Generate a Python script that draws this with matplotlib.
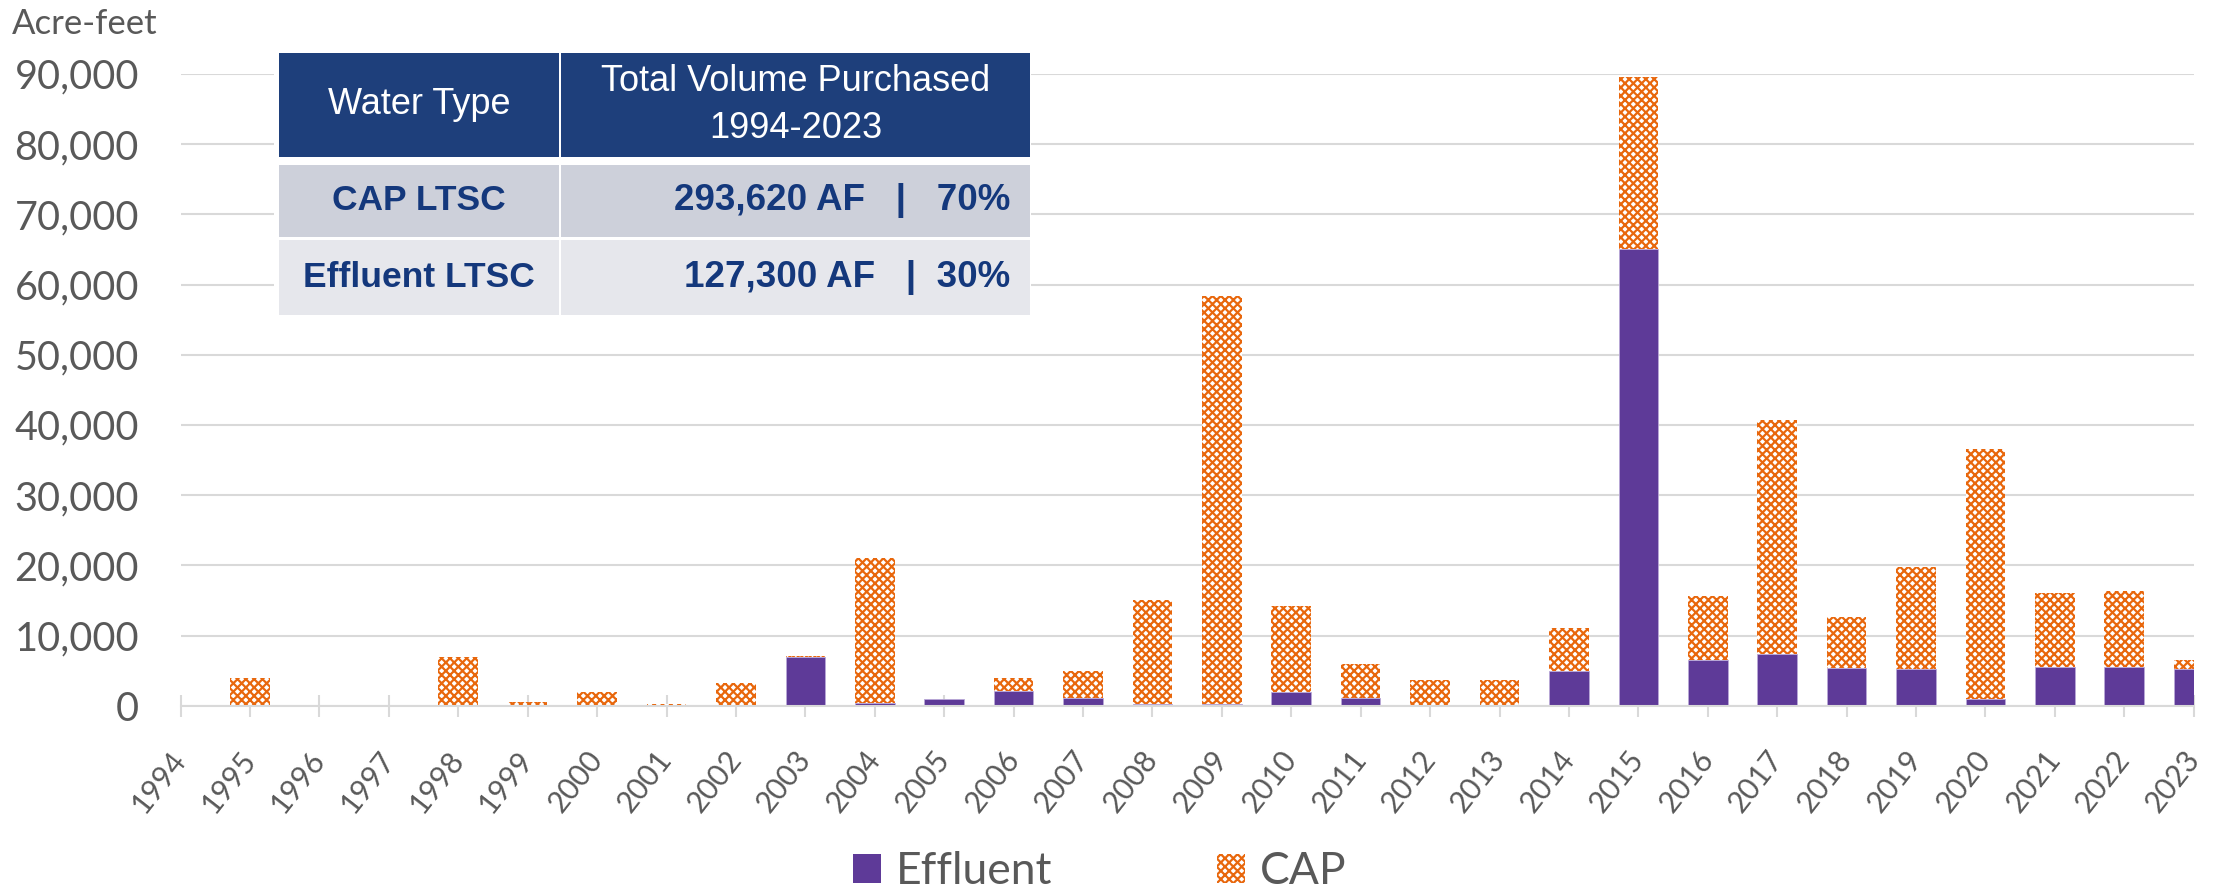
import matplotlib.pyplot as plt
from matplotlib.patches import Rectangle, Patch
from matplotlib.ticker import FuncFormatter

# Water purchases per year (acre-feet)
years = list(range(1994, 2024))
effluent = [0, 0, 0, 0, 0, 0, 0, 0, 0, 6900,
            400, 900, 2100, 1100, 200, 200, 1900, 1100, 0, 0,
            4900, 65000, 6500, 7400, 5300, 5200, 900, 5500, 5500, 5200]
cap = [0, 4000, 0, 0, 6900, 500, 2000, 200, 3300, 250,
       20600, 0, 1900, 3800, 14800, 58200, 12250, 4900, 3600, 3600,
       6200, 24550, 9070, 33250, 7380, 14500, 35700, 10600, 10780, 1350]

table_header = ['Water Type', 'Total Volume Purchased\n1994-2023']
table_rows = [['CAP LTSC', '293,620 AF   |   70%'],
              ['Effluent LTSC', '127,300 AF   |  30%']]

purple = '#5E3A98'
orange = '#E8670C'
gray_txt = '#595959'
grid_col = '#D9D9D9'
navy = '#1E3F7B'
navy_txt = '#14387C'

plt.rcParams['font.family'] = ['Lato', 'DejaVu Sans']
plt.rcParams['hatch.linewidth'] = 1.6

W, H = 2213, 892
fig = plt.figure(figsize=(W / 100, H / 100), dpi=100)


def fx(x):
    return x / W


def fy(y):
    return 1 - y / H


ax = fig.add_axes([fx(180.6), fy(705.7), fx(2193.7 - 180.6), (705.7 - 73.9) / H])

ax.bar(years, effluent, width=0.57, color=purple, edgecolor='#B9A8D8', linewidth=0.6, zorder=3)
ax.bar(years, cap, width=0.57, bottom=effluent, color='white', edgecolor=orange,
       hatch='xxxx', linewidth=0, zorder=3)

ax.set_xlim(1994, 2023)
ax.set_ylim(0, 90000)
ax.set_yticks(range(0, 90001, 10000))
ax.yaxis.set_major_formatter(FuncFormatter(lambda v, p: f'{v:,.0f}'))
ax.set_xticks(years)
ax.set_xticklabels([str(y) for y in years], rotation=52, ha='right', va='center',
                   rotation_mode='anchor')

ax.grid(axis='y', color=grid_col, linewidth=1.5, zorder=0)
for s in ['top', 'right', 'left']:
    ax.spines[s].set_visible(False)
ax.spines['bottom'].set_color(grid_col)
ax.spines['bottom'].set_linewidth(1.5)
ax.spines['bottom'].set_zorder(4)

ax.tick_params(axis='y', length=0, pad=30, labelsize=28.5, labelcolor=gray_txt)
ax.tick_params(axis='x', direction='inout', length=16, width=1.5, color=grid_col,
               pad=27, labelsize=21.5, labelcolor=gray_txt)

fig.text(fx(12), fy(34), 'Acre-feet', fontsize=25, color=gray_txt, va='baseline', ha='left')

# summary table drawn on top of the plot
fig.add_artist(Rectangle((fx(274), fy(320)), fx(1031 - 274), (320 - 49) / H,
                         transform=fig.transFigure, facecolor='white', edgecolor='none', zorder=5))
col_x = [(278.5, 559), (561, 1030)]
row_y = [(53.3, 156.7), (165, 237), (240, 315)]
row_bg = [navy, '#CDD0DA', '#E6E7EC']
rows = [table_header] + table_rows
for r, (y0, y1) in enumerate(row_y):
    for c, (x0, x1) in enumerate(col_x):
        fig.add_artist(Rectangle((fx(x0), fy(y1)), fx(x1 - x0), (y1 - y0) / H,
                                 transform=fig.transFigure, facecolor=row_bg[r],
                                 edgecolor='none', zorder=6))
        txt = rows[r][c]
        yc = fy((y0 + y1) / 2)
        if r == 0:
            fig.text(fx((x0 + x1) / 2), yc, txt, ha='center', va='center', color='white',
                     fontsize=26, family='Liberation Sans', linespacing=1.45, zorder=7)
        elif c == 0:
            fig.text(fx((x0 + x1) / 2), yc, txt, ha='center', va='center', color=navy_txt,
                     fontsize=25.5, family='Liberation Sans', fontweight='bold', zorder=7)
        else:
            fig.text(fx(x1 - 20), yc, txt, ha='right', va='center', color=navy_txt,
                     fontsize=26.5, family='Liberation Sans', fontweight='bold', zorder=7)

handles = [Patch(facecolor=purple, edgecolor='none', label='Effluent'),
           Patch(facecolor='white', edgecolor=orange, hatch='xxxx', linewidth=0, label='CAP')]
fig.legend(handles=handles, loc='center', bbox_to_anchor=(fx(1100), fy(872)), ncol=2,
           frameon=False, fontsize=32, labelcolor=gray_txt, handlelength=0.62,
           handleheight=0.62, handletextpad=0.35, columnspacing=3.7)

fig.savefig('out.png', dpi=100)
